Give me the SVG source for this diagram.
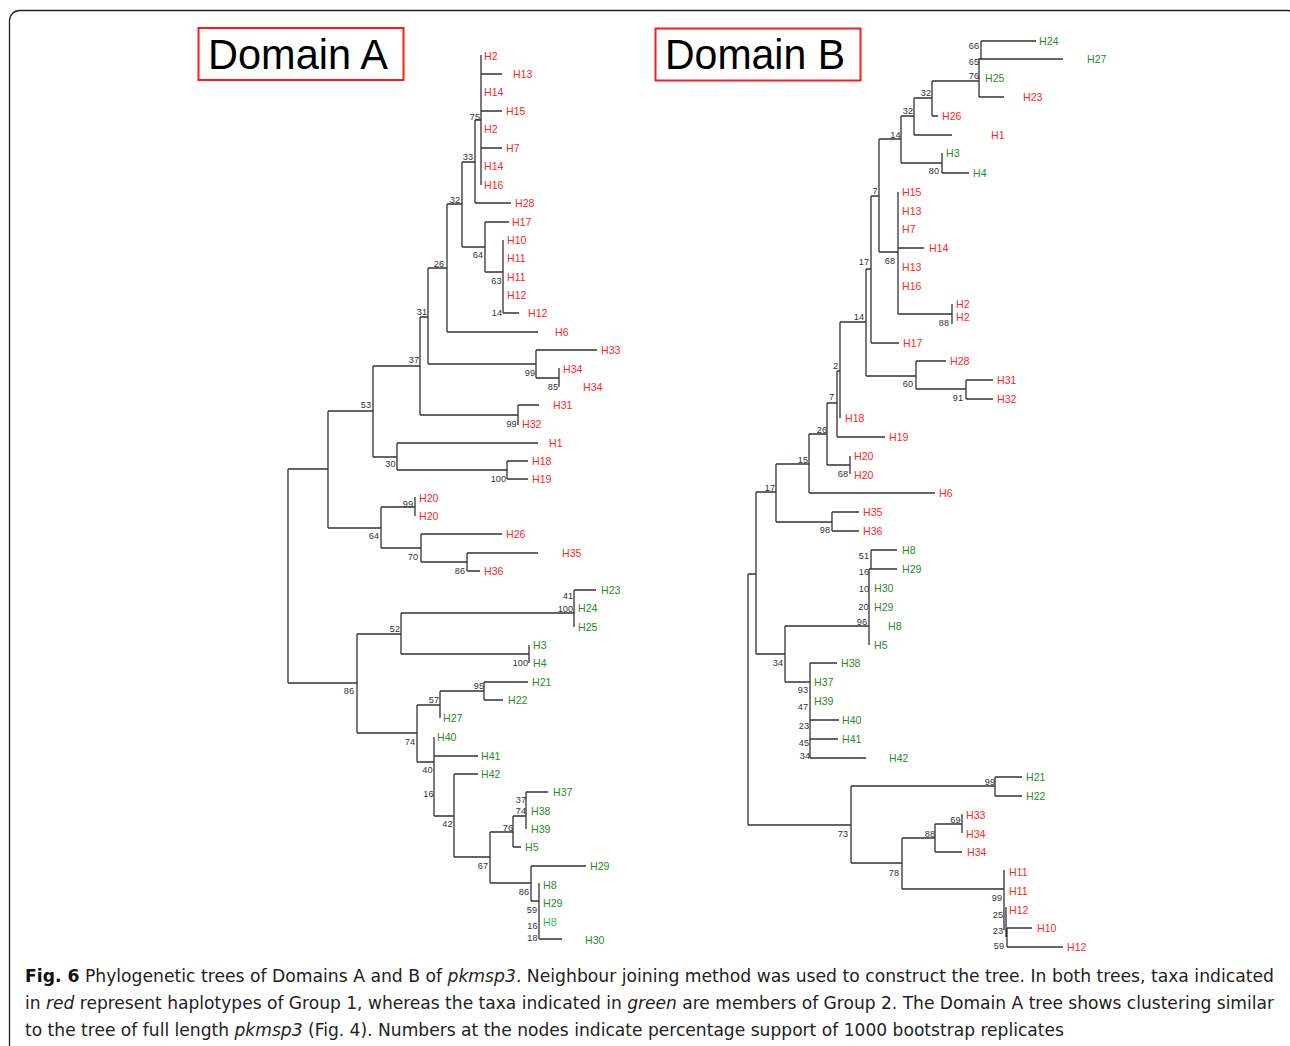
<svg xmlns="http://www.w3.org/2000/svg" width="1290" height="1046" viewBox="0 0 1290 1046">
<style>
.br{stroke:#333;stroke-width:1.3;fill:none}
.lf{font-family:"Liberation Sans",Arial,sans-serif;font-size:10.6px;dominant-baseline:central}
.r{fill:#ff2626}
.g{fill:#2b8a2b}
.g2{fill:#33bb55}
.bs{font-family:"Liberation Sans",Arial,sans-serif;font-size:9.2px;fill:#333;text-anchor:end}
.ttl{font-family:"Liberation Sans",Arial,sans-serif;font-size:42px;fill:#000}
.box{fill:none;stroke:#ff1a1a;stroke-width:2}
.cap{font-family:"Liberation Sans Narrow","DejaVu Sans Condensed","Liberation Sans",sans-serif;font-size:18px;fill:#222}
</style>
<rect x="9.5" y="10.5" width="1288" height="1100" rx="10" fill="#fff" stroke="#222" stroke-width="1.3"/>

<g id="title-A"><rect class="box" x="198.5" y="28" width="205" height="52"/><text class="ttl" x="208" y="69" textLength="180" lengthAdjust="spacingAndGlyphs">Domain A</text></g>
<g id="title-B"><rect class="box" x="655.5" y="28.5" width="205" height="52"/><text class="ttl" x="665" y="69" textLength="180" lengthAdjust="spacingAndGlyphs">Domain B</text></g>

<g id="connectors-A" class="br">
<path d="M481 55V185M481 74H502M481 111H502M481 148H502"/>
<path d="M475 120V203M475 120H481M475 203H511"/>
<path d="M462 162V247M462 162H475M462 247H485"/>
<path d="M485 222V272M485 222H509M485 272H503"/>
<path d="M503 240V313M503 313H519"/>
<path d="M447 204V332M447 204H462M447 332H538"/>
<path d="M428 268V364M428 268H447M428 364H536"/>
<path d="M536 350V378M536 350H597M536 378H559"/>
<path d="M559 368V387"/>
<path d="M420 317V415M420 317H428M420 415H518"/>
<path d="M518 405V425M518 405H539"/>
<path d="M373 366V457M373 366H420M373 457H397"/>
<path d="M397 443V470M397 443H538M397 470H507"/>
<path d="M507 461V479M507 461H528M507 479H528"/>
<path d="M328 411V528M328 411H373M328 528H381"/>
<path d="M381 507V548M381 507H415M381 548H421"/>
<path d="M415 497V516"/>
<path d="M421 534V562M421 534H502M421 562H467"/>
<path d="M467 553V571M467 553H538M467 571H480"/>
<path d="M288 469V683M288 469H328M288 683H357"/>
<path d="M357 634V733M357 634H401M357 733H417"/>
<path d="M401 613V654M401 613H574M401 654H529"/>
<path d="M574 590V627M574 590H596"/>
<path d="M529 645V663"/>
<path d="M417 705V762M417 705H440M417 762H434"/>
<path d="M440 691V718M440 691H484"/>
<path d="M484 682V700M484 682H528M484 700H503"/>
<path d="M434 737V816M434 756H478M434 816H454"/>
<path d="M454 774V857M454 774H478M454 857H490"/>
<path d="M490 832V883M490 832H513M490 883H531"/>
<path d="M513 816V847M513 816H526M513 847H521"/>
<path d="M526 792V829M526 792H548"/>
<path d="M531 866V901M531 866H586M531 901H539"/>
<path d="M539 883V939M539 939H562"/>
</g>

<g id="connectors-B" class="br">
<path d="M981 41V59M981 41H1036M981 59H1063"/>
<path d="M979 58V97M979 59H981M979 97H1004"/>
<path d="M932 81V116M932 81H979M932 116H938"/>
<path d="M914 98V135M914 98H932M914 135H952"/>
<path d="M901 116V163M901 116H914M901 163H942"/>
<path d="M942 153V173M942 173H969"/>
<path d="M879 139V252M879 139H901M879 252H898"/>
<path d="M898 192V314M898 248H924M898 314H952"/>
<path d="M952 304V324"/>
<path d="M871 196V343M871 196H879M871 343H899"/>
<path d="M866 269V376M866 269H871M866 376H916"/>
<path d="M916 361V389M916 361H946M916 389H966"/>
<path d="M966 380V399M966 380H993M966 399H993"/>
<path d="M840 322V418M840 322H866"/>
<path d="M837 371V437M837 371H840M837 437H885"/>
<path d="M827 403V465M827 403H837M827 465H850"/>
<path d="M850 456V474"/>
<path d="M809 434V493M809 434H827M809 493H935"/>
<path d="M776 464V522M776 464H809M776 522H832"/>
<path d="M832 512V531M832 512H859M832 531H859"/>
<path d="M756 492V654M756 492H776M756 654H785"/>
<path d="M748 574V825M748 574H756M748 825H851"/>
<path d="M785 626V682M785 626H869M785 682H810"/>
<path d="M869 569V645M871 550V569M871 550H897M869 569H897"/>
<path d="M810 663V758M810 663H837M810 720H839M810 739H838M810 758H866"/>
<path d="M851 786V863M851 786H995M851 863H902"/>
<path d="M995 777V796M995 777H1022M995 796H1022"/>
<path d="M902 838V889M902 838H935M902 889H1004"/>
<path d="M935 824V852M935 824H962M935 852H962"/>
<path d="M962 814V833"/>
<path d="M1004 870V930M1006 907V937M1007 928V947M1007 928H1032M1007 947H1063"/>
</g>

<g id="leaves-A" class="lf">
<g id="A-H2a"><text class="r" x="484" y="56">H2</text></g>
<g id="A-H13"><text class="r" x="513" y="74">H13</text></g>
<g id="A-H14a"><text class="r" x="484" y="92">H14</text></g>
<g id="A-H15"><text class="r" x="506" y="111">H15</text></g>
<g id="A-H2b"><text class="r" x="484" y="129">H2</text></g>
<g id="A-H7"><text class="r" x="506" y="148">H7</text></g>
<g id="A-H14b"><text class="r" x="484" y="166">H14</text></g>
<g id="A-H16"><text class="r" x="484" y="185">H16</text></g>
<g id="A-H28"><text class="r" x="515" y="203">H28</text></g>
<g id="A-H17"><text class="r" x="512" y="222">H17</text></g>
<g id="A-H10"><text class="r" x="507" y="240">H10</text></g>
<g id="A-H11a"><text class="r" x="507" y="258">H11</text></g>
<g id="A-H11b"><text class="r" x="507" y="277">H11</text></g>
<g id="A-H12a"><text class="r" x="507" y="295">H12</text></g>
<g id="A-H12b"><text class="r" x="528" y="313">H12</text></g>
<g id="A-H6"><text class="r" x="555" y="332">H6</text></g>
<g id="A-H33"><text class="r" x="601" y="350">H33</text></g>
<g id="A-H34a"><text class="r" x="563" y="369">H34</text></g>
<g id="A-H34b"><text class="r" x="583" y="387">H34</text></g>
<g id="A-H31"><text class="r" x="553" y="405">H31</text></g>
<g id="A-H32"><text class="r" x="522" y="424">H32</text></g>
<g id="A-H1"><text class="r" x="549" y="443">H1</text></g>
<g id="A-H18"><text class="r" x="532" y="461">H18</text></g>
<g id="A-H19"><text class="r" x="532" y="479">H19</text></g>
<g id="A-H20a"><text class="r" x="419" y="498">H20</text></g>
<g id="A-H20b"><text class="r" x="419" y="516">H20</text></g>
<g id="A-H26"><text class="r" x="506" y="534">H26</text></g>
<g id="A-H35"><text class="r" x="562" y="553">H35</text></g>
<g id="A-H36"><text class="r" x="484" y="571">H36</text></g>
<g id="A-H23"><text class="g" x="601" y="590">H23</text></g>
<g id="A-H24"><text class="g" x="578" y="608">H24</text></g>
<g id="A-H25"><text class="g" x="578" y="627">H25</text></g>
<g id="A-H3"><text class="g" x="533" y="645">H3</text></g>
<g id="A-H4"><text class="g" x="533" y="663">H4</text></g>
<g id="A-H21"><text class="g" x="532" y="682">H21</text></g>
<g id="A-H22"><text class="g" x="508" y="700">H22</text></g>
<g id="A-H27"><text class="g" x="443" y="718">H27</text></g>
<g id="A-H40"><text class="g" x="437" y="737">H40</text></g>
<g id="A-H41"><text class="g" x="481" y="756">H41</text></g>
<g id="A-H42"><text class="g" x="481" y="774">H42</text></g>
<g id="A-H37"><text class="g" x="553" y="792">H37</text></g>
<g id="A-H38"><text class="g" x="531" y="811">H38</text></g>
<g id="A-H39"><text class="g" x="531" y="829">H39</text></g>
<g id="A-H5"><text class="g" x="525" y="847">H5</text></g>
<g id="A-H29a"><text class="g" x="590" y="866">H29</text></g>
<g id="A-H8a"><text class="g" x="543" y="885">H8</text></g>
<g id="A-H29b"><text class="g" x="543" y="903">H29</text></g>
<g id="A-H8b"><text class="g2" x="543" y="922">H8</text></g>
<g id="A-H30"><text class="g" x="585" y="940">H30</text></g>
</g>

<g id="bootstrap-A" class="bs">
<g id="A-n1"><text x="480" y="119.5">75</text></g>
<g id="A-n2"><text x="473" y="160">33</text></g>
<g id="A-n3"><text x="460" y="203">32</text></g>
<g id="A-n4"><text x="483" y="258">64</text></g>
<g id="A-n5"><text x="444" y="266.5">26</text></g>
<g id="A-n6"><text x="501.5" y="284">63</text></g>
<g id="A-n7"><text x="502" y="316">14</text></g>
<g id="A-n8"><text x="427" y="315">31</text></g>
<g id="A-n9"><text x="419" y="362.5">37</text></g>
<g id="A-n10"><text x="535" y="376">99</text></g>
<g id="A-n11"><text x="558" y="390">85</text></g>
<g id="A-n12"><text x="516.5" y="426.5">99</text></g>
<g id="A-n13"><text x="371" y="408">53</text></g>
<g id="A-n14"><text x="395.5" y="466.5">30</text></g>
<g id="A-n15"><text x="506" y="482">100</text></g>
<g id="A-n16"><text x="413" y="506.5">99</text></g>
<g id="A-n17"><text x="379" y="539">64</text></g>
<g id="A-n18"><text x="418" y="560">70</text></g>
<g id="A-n19"><text x="465" y="574">86</text></g>
<g id="A-n20"><text x="573" y="599">41</text></g>
<g id="A-n21"><text x="573" y="611.5">100</text></g>
<g id="A-n22"><text x="400" y="632">52</text></g>
<g id="A-n23"><text x="528" y="665.5">100</text></g>
<g id="A-n24"><text x="484" y="689">95</text></g>
<g id="A-n25"><text x="354" y="694">86</text></g>
<g id="A-n26"><text x="439" y="702.5">57</text></g>
<g id="A-n27"><text x="415" y="745">74</text></g>
<g id="A-n28"><text x="432.5" y="772.5">40</text></g>
<g id="A-n29"><text x="433.5" y="796.5">16</text></g>
<g id="A-n30"><text x="452.5" y="827">42</text></g>
<g id="A-n31"><text x="526" y="802.5">37</text></g>
<g id="A-n32"><text x="526" y="814">74</text></g>
<g id="A-n33"><text x="513" y="831">76</text></g>
<g id="A-n34"><text x="488" y="869">67</text></g>
<g id="A-n35"><text x="529" y="895">86</text></g>
<g id="A-n36"><text x="537" y="912.5">59</text></g>
<g id="A-n37"><text x="537.5" y="929">16</text></g>
<g id="A-n38"><text x="537.5" y="941">18</text></g>
</g>

<g id="leaves-B" class="lf">
<g id="B-H24"><text class="g" x="1039" y="41">H24</text></g>
<g id="B-H27"><text class="g" x="1087" y="59">H27</text></g>
<g id="B-H25"><text class="g" x="985" y="78">H25</text></g>
<g id="B-H23"><text class="r" x="1023" y="97">H23</text></g>
<g id="B-H26"><text class="r" x="942" y="116">H26</text></g>
<g id="B-H1"><text class="r" x="991" y="135">H1</text></g>
<g id="B-H3"><text class="g" x="946" y="153">H3</text></g>
<g id="B-H4"><text class="g" x="973" y="173">H4</text></g>
<g id="B-H15"><text class="r" x="902" y="192">H15</text></g>
<g id="B-H13a"><text class="r" x="902" y="211">H13</text></g>
<g id="B-H7"><text class="r" x="902" y="229">H7</text></g>
<g id="B-H14"><text class="r" x="929" y="248">H14</text></g>
<g id="B-H13b"><text class="r" x="902" y="267">H13</text></g>
<g id="B-H16"><text class="r" x="902" y="286">H16</text></g>
<g id="B-H2a"><text class="r" x="956" y="304">H2</text></g>
<g id="B-H2b"><text class="r" x="956" y="317">H2</text></g>
<g id="B-H17"><text class="r" x="903" y="343">H17</text></g>
<g id="B-H28"><text class="r" x="950" y="361">H28</text></g>
<g id="B-H31"><text class="r" x="997" y="380">H31</text></g>
<g id="B-H32"><text class="r" x="997" y="399">H32</text></g>
<g id="B-H18"><text class="r" x="845" y="418">H18</text></g>
<g id="B-H19"><text class="r" x="889" y="437">H19</text></g>
<g id="B-H20a"><text class="r" x="854" y="456">H20</text></g>
<g id="B-H20b"><text class="r" x="854" y="475">H20</text></g>
<g id="B-H6"><text class="r" x="939" y="493">H6</text></g>
<g id="B-H35"><text class="r" x="863" y="512">H35</text></g>
<g id="B-H36"><text class="r" x="863" y="531">H36</text></g>
<g id="B-H8a"><text class="g" x="902" y="550">H8</text></g>
<g id="B-H29a"><text class="g" x="902" y="569">H29</text></g>
<g id="B-H30"><text class="g" x="874" y="588">H30</text></g>
<g id="B-H29b"><text class="g" x="874" y="607">H29</text></g>
<g id="B-H8b"><text class="g" x="888" y="626">H8</text></g>
<g id="B-H5"><text class="g" x="874" y="645">H5</text></g>
<g id="B-H38"><text class="g" x="841" y="663">H38</text></g>
<g id="B-H37"><text class="g" x="814" y="682">H37</text></g>
<g id="B-H39"><text class="g" x="814" y="701">H39</text></g>
<g id="B-H40"><text class="g" x="842" y="720">H40</text></g>
<g id="B-H41"><text class="g" x="842" y="739">H41</text></g>
<g id="B-H42"><text class="g" x="889" y="758">H42</text></g>
<g id="B-H21"><text class="g" x="1026" y="777">H21</text></g>
<g id="B-H22"><text class="g" x="1026" y="796">H22</text></g>
<g id="B-H33"><text class="r" x="966" y="815">H33</text></g>
<g id="B-H34a"><text class="r" x="966" y="834">H34</text></g>
<g id="B-H34b"><text class="r" x="967" y="852">H34</text></g>
<g id="B-H11a"><text class="r" x="1009" y="872">H11</text></g>
<g id="B-H11b"><text class="r" x="1009" y="891">H11</text></g>
<g id="B-H12a"><text class="r" x="1009" y="910">H12</text></g>
<g id="B-H10"><text class="r" x="1037" y="928">H10</text></g>
<g id="B-H12b"><text class="r" x="1067" y="947">H12</text></g>
</g>

<g id="bootstrap-B" class="bs">
<g id="B-n1"><text x="979" y="48.5">66</text></g>
<g id="B-n2"><text x="979" y="64.5">65</text></g>
<g id="B-n3"><text x="979" y="78.5">76</text></g>
<g id="B-n4"><text x="931" y="96">32</text></g>
<g id="B-n5"><text x="913" y="114">32</text></g>
<g id="B-n6"><text x="900.5" y="138">14</text></g>
<g id="B-n7"><text x="939" y="174">80</text></g>
<g id="B-n8"><text x="877.5" y="194">7</text></g>
<g id="B-n9"><text x="895" y="263.5">68</text></g>
<g id="B-n10"><text x="869" y="265">17</text></g>
<g id="B-n11"><text x="949" y="326">88</text></g>
<g id="B-n12"><text x="864" y="320">14</text></g>
<g id="B-n13"><text x="913" y="387">60</text></g>
<g id="B-n14"><text x="963" y="400.5">91</text></g>
<g id="B-n15"><text x="838" y="368.5">2</text></g>
<g id="B-n16"><text x="834" y="400">7</text></g>
<g id="B-n17"><text x="827" y="433">26</text></g>
<g id="B-n18"><text x="848" y="476.5">68</text></g>
<g id="B-n19"><text x="808" y="463">15</text></g>
<g id="B-n20"><text x="775" y="491">17</text></g>
<g id="B-n21"><text x="830" y="533">98</text></g>
<g id="B-n22"><text x="869" y="559">51</text></g>
<g id="B-n23"><text x="869" y="575">16</text></g>
<g id="B-n24"><text x="869" y="592">10</text></g>
<g id="B-n25"><text x="868.5" y="610">20</text></g>
<g id="B-n26"><text x="867" y="625">96</text></g>
<g id="B-n27"><text x="783" y="666">34</text></g>
<g id="B-n28"><text x="808" y="693">93</text></g>
<g id="B-n29"><text x="808" y="710">47</text></g>
<g id="B-n30"><text x="809" y="729">23</text></g>
<g id="B-n31"><text x="809" y="746">45</text></g>
<g id="B-n32"><text x="810" y="759">34</text></g>
<g id="B-n33"><text x="848" y="836.5">73</text></g>
<g id="B-n34"><text x="995" y="785">99</text></g>
<g id="B-n35"><text x="899" y="875.5">78</text></g>
<g id="B-n36"><text x="935" y="836.5">88</text></g>
<g id="B-n37"><text x="960.5" y="822.5">69</text></g>
<g id="B-n38"><text x="1002" y="901">99</text></g>
<g id="B-n39"><text x="1003" y="918">25</text></g>
<g id="B-n40"><text x="1003" y="934">23</text></g>
<g id="B-n41"><text x="1004" y="949">59</text></g>
</g>

<g id="caption" class="cap">
<text x="25" y="982" textLength="1249" lengthAdjust="spacingAndGlyphs"><tspan font-weight="bold" fill="#111">Fig. 6</tspan> Phylogenetic trees of Domains A and B of <tspan font-style="italic">pkmsp3</tspan>. Neighbour joining method was used to construct the tree. In both trees, taxa indicated</text>
<text x="25" y="1009" textLength="1249" lengthAdjust="spacingAndGlyphs">in <tspan font-style="italic">red</tspan> represent haplotypes of Group 1, whereas the taxa indicated in <tspan font-style="italic">green</tspan> are members of Group 2. The Domain A tree shows clustering similar</text>
<text x="25" y="1036" textLength="1039" lengthAdjust="spacingAndGlyphs">to the tree of full length <tspan font-style="italic">pkmsp3</tspan> (Fig. 4). Numbers at the nodes indicate percentage support of 1000 bootstrap replicates</text>
</g>
</svg>
